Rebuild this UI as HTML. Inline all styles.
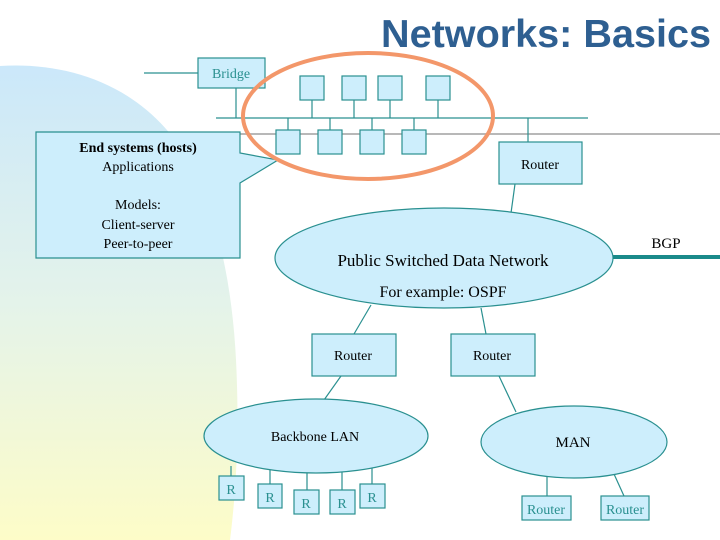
<!DOCTYPE html>
<html><head><meta charset="utf-8"><style>
html,body{margin:0;padding:0;background:#fff;}
svg{display:block;}
text{font-family:"Liberation Serif",serif;}
</style></head><body>
<svg width="720" height="540" viewBox="0 0 720 540" xmlns="http://www.w3.org/2000/svg">
<defs>
<linearGradient id="bg" x1="0" y1="0" x2="0" y2="1">
<stop offset="0" stop-color="#cbe8fa"/>
<stop offset="0.5" stop-color="#e4f3ea"/>
<stop offset="1" stop-color="#fdfcc8"/>
</linearGradient>
</defs>
<path d="M0,66 C60,62 130,80 175,140 C215,195 232,280 236,360 C240,440 235,500 230,540 L0,540 Z" fill="url(#bg)"/>
<line x1="225" y1="134" x2="720" y2="134" stroke="#b8b8b8" stroke-width="2"/>
<text x="711" y="47" text-anchor="end" font-family="Liberation Sans" font-weight="bold" font-size="39" fill="#2e5f91" textLength="330" lengthAdjust="spacingAndGlyphs" style="font-family:'Liberation Sans',sans-serif">Networks: Basics</text>
<g stroke="#2a9090" stroke-width="1.2" fill="#cdeefc">
<line x1="144" y1="73" x2="198" y2="73"/>
<line x1="236" y1="88" x2="236" y2="118"/>
<line x1="216" y1="118" x2="588" y2="118"/>
<line x1="312" y1="100" x2="312" y2="118"/>
<line x1="354" y1="100" x2="354" y2="118"/>
<line x1="390" y1="100" x2="390" y2="118"/>
<line x1="438" y1="100" x2="438" y2="118"/>
<line x1="288" y1="118" x2="288" y2="130"/>
<line x1="330" y1="118" x2="330" y2="130"/>
<line x1="372" y1="118" x2="372" y2="130"/>
<line x1="414" y1="118" x2="414" y2="130"/>
<line x1="528" y1="118" x2="528" y2="142"/>
<rect x="198" y="58" width="67" height="30"/>
<rect x="300" y="76" width="24" height="24"/>
<rect x="342" y="76" width="24" height="24"/>
<rect x="378" y="76" width="24" height="24"/>
<rect x="426" y="76" width="24" height="24"/>
<rect x="276" y="130" width="24" height="24"/>
<rect x="318" y="130" width="24" height="24"/>
<rect x="360" y="130" width="24" height="24"/>
<rect x="402" y="130" width="24" height="24"/>
<rect x="499" y="142" width="83" height="42"/>
<path d="M36,132 L240,132 L240,153 L278,160 L240,183 L240,258 L36,258 Z"/>
<line x1="515" y1="184" x2="511" y2="213"/>
<line x1="371" y1="305" x2="354" y2="334"/>
<line x1="481" y1="308" x2="486" y2="334"/>
<line x1="341" y1="376" x2="324" y2="400"/>
<line x1="499" y1="376" x2="516" y2="412"/>
<ellipse cx="444" cy="258" rx="169" ry="50"/>
<rect x="312" y="334" width="84" height="42"/>
<rect x="451" y="334" width="84" height="42"/>
<line x1="231" y1="466" x2="231" y2="476"/>
<line x1="270" y1="470" x2="270" y2="484"/>
<line x1="307" y1="472" x2="307" y2="490"/>
<line x1="342" y1="472" x2="342" y2="490"/>
<line x1="372" y1="468" x2="372" y2="484"/>
<line x1="547" y1="476" x2="547" y2="496"/>
<line x1="614" y1="474" x2="624" y2="496"/>
<ellipse cx="316" cy="436" rx="112" ry="37"/>
<ellipse cx="574" cy="442" rx="93" ry="36"/>
<rect x="219" y="476" width="25" height="24"/>
<rect x="258" y="484" width="24" height="24"/>
<rect x="294" y="490" width="25" height="24"/>
<rect x="330" y="490" width="25" height="24"/>
<rect x="360" y="484" width="25" height="24"/>
<rect x="522" y="496" width="49" height="24"/>
<rect x="601" y="496" width="48" height="24"/>
</g>
<line x1="613" y1="257" x2="720" y2="257" stroke="#1a8a8a" stroke-width="4"/>
<ellipse cx="368" cy="116" rx="125" ry="63" fill="none" stroke="#f3976a" stroke-width="4"/>
<g font-size="14" fill="#000" text-anchor="middle">
<text x="138" y="152" font-weight="bold">End systems (hosts)</text>
<text x="138" y="171">Applications</text>
<text x="138" y="209">Models:</text>
<text x="138" y="229">Client-server</text>
<text x="138" y="248">Peer-to-peer</text>
<text x="540" y="169">Router</text>
<text x="353" y="360">Router</text>
<text x="492" y="360">Router</text>
<text x="315" y="441">Backbone LAN</text>
<text x="573" y="447" font-size="15">MAN</text>
<text x="666" y="248" font-size="15">BGP</text>
<text x="443" y="266" font-size="17">Public Switched Data Network</text>
<text x="443" y="297" font-size="16">For example: OSPF</text>
</g>
<g font-size="14" fill="#2a9090" text-anchor="middle">
<text x="231" y="78">Bridge</text>
<text x="231" y="494">R</text>
<text x="270" y="502">R</text>
<text x="306" y="508">R</text>
<text x="342" y="508">R</text>
<text x="372" y="502">R</text>
<text x="546" y="514">Router</text>
<text x="625" y="514">Router</text>
</g>
</svg>
</body></html>
